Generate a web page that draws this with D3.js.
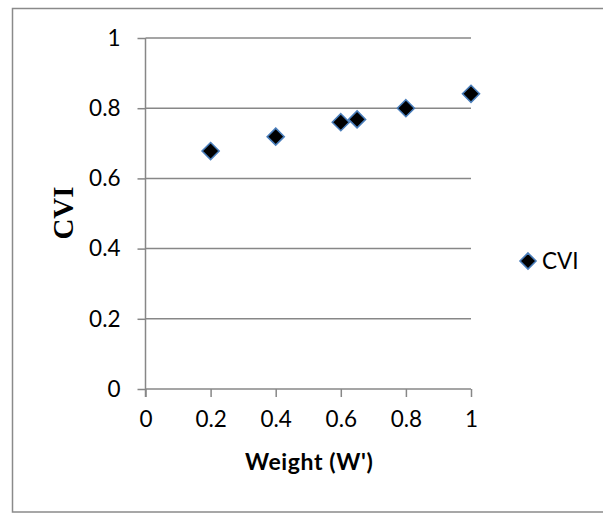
<!DOCTYPE html>
<html>
<head>
<meta charset="utf-8">
<script src="https://cdn.jsdelivr.net/npm/d3@7"></script>
<style>
  html, body { margin: 0; padding: 0; background: #fff; }
  svg { display: block; }
</style>
</head>
<body>
<svg id="chart" width="603" height="514"></svg>
<script>
const weights = [0.2, 0.4, 0.6, 0.65, 0.8, 1.0];
const cviValues = [0.678, 0.719, 0.760, 0.768, 0.800, 0.841];
const xTicks = [0, 0.2, 0.4, 0.6, 0.8, 1];
const yTicks = [0, 0.2, 0.4, 0.6, 0.8, 1];
const seriesName = "CVI";
const xTitle = "Weight (W')";
const yTitle = "CVI";

const svg = d3.select("#chart");

// outer border
svg.append("rect")
  .attr("x", 12.5).attr("y", 8.5)
  .attr("width", 600).attr("height", 503.5)
  .attr("fill", "#fff").attr("stroke", "#8a8a8a").attr("stroke-width", 1.5);

const x = d3.scaleLinear().domain([0, 1]).range([145.5, 471]);
const y = d3.scaleLinear().domain([0, 1]).range([389, 38]);

const gridColor = "#878787";
const tickFont = "Lato, 'Open Sans', sans-serif";
const tickSize = 22.5;

// gridlines
svg.append("g").selectAll("line")
  .data(yTicks.filter(d => d > 0))
  .join("line")
  .attr("x1", x(0)).attr("x2", x(1))
  .attr("y1", d => y(d)).attr("y2", d => y(d))
  .attr("stroke", gridColor).attr("stroke-width", 1.5);

// y axis
const yAxis = svg.append("g")
  .attr("transform", `translate(${x(0)},0)`)
  .call(d3.axisLeft(y).tickValues(yTicks).tickSize(8).tickPadding(17)
        .tickFormat(d3.format("~g")));
yAxis.select(".domain").remove();
yAxis.selectAll(".tick line").attr("stroke", gridColor).attr("stroke-width", 1.5);
yAxis.selectAll(".tick text")
  .attr("font-family", tickFont).attr("font-size", tickSize).attr("fill", "#000");
yAxis.append("line")
  .attr("x1", 0).attr("x2", 0).attr("y1", y(1)).attr("y2", y(0) + 8)
  .attr("stroke", gridColor).attr("stroke-width", 1.5);

// x axis
const xAxis = svg.append("g")
  .attr("transform", `translate(0,${y(0)})`)
  .call(d3.axisBottom(x).tickValues(xTicks).tickSize(8).tickPadding(14)
        .tickFormat(d3.format("~g")));
xAxis.select(".domain").remove();
xAxis.selectAll(".tick line").attr("stroke", gridColor).attr("stroke-width", 1.5);
xAxis.selectAll(".tick text")
  .attr("font-family", tickFont).attr("font-size", tickSize).attr("fill", "#000");
xAxis.append("line")
  .attr("x1", x(0)).attr("x2", x(1)).attr("y1", 0).attr("y2", 0)
  .attr("stroke", gridColor).attr("stroke-width", 1.5);

// axis titles
svg.append("text")
  .attr("x", (x(0) + x(1)) / 2 + 1).attr("y", 470)
  .attr("text-anchor", "middle")
  .attr("font-family", tickFont).attr("font-weight", "bold").attr("font-size", 23)
  .attr("letter-spacing", 0.6)
  .text(xTitle);

svg.append("text")
  .attr("transform", `translate(73,${213}) rotate(-90)`)
  .attr("text-anchor", "middle")
  .attr("font-family", "'Liberation Serif', 'Times New Roman', serif")
  .attr("font-weight", "bold").attr("font-size", 29)
  .text(yTitle);

// markers
const diamond = r => `M0,${-r}L${r},0L0,${r}L${-r},0Z`;
svg.append("g").selectAll("path")
  .data(weights.map((w, i) => [w, cviValues[i]]))
  .join("path")
  .attr("transform", d => `translate(${x(d[0])},${y(d[1])})`)
  .attr("d", diamond(8.5))
  .attr("fill", "#000").attr("stroke", "#4a7ebb").attr("stroke-width", 1.6);

// legend
const lg = svg.append("g").attr("transform", "translate(528,261)");
lg.append("path").attr("d", diamond(8))
  .attr("fill", "#000").attr("stroke", "#4a7ebb").attr("stroke-width", 1.6);
lg.append("text").attr("x", 14).attr("y", 8)
  .attr("font-family", tickFont).attr("font-size", tickSize).attr("fill", "#000")
  .text(seriesName);
</script>
</body>
</html>
